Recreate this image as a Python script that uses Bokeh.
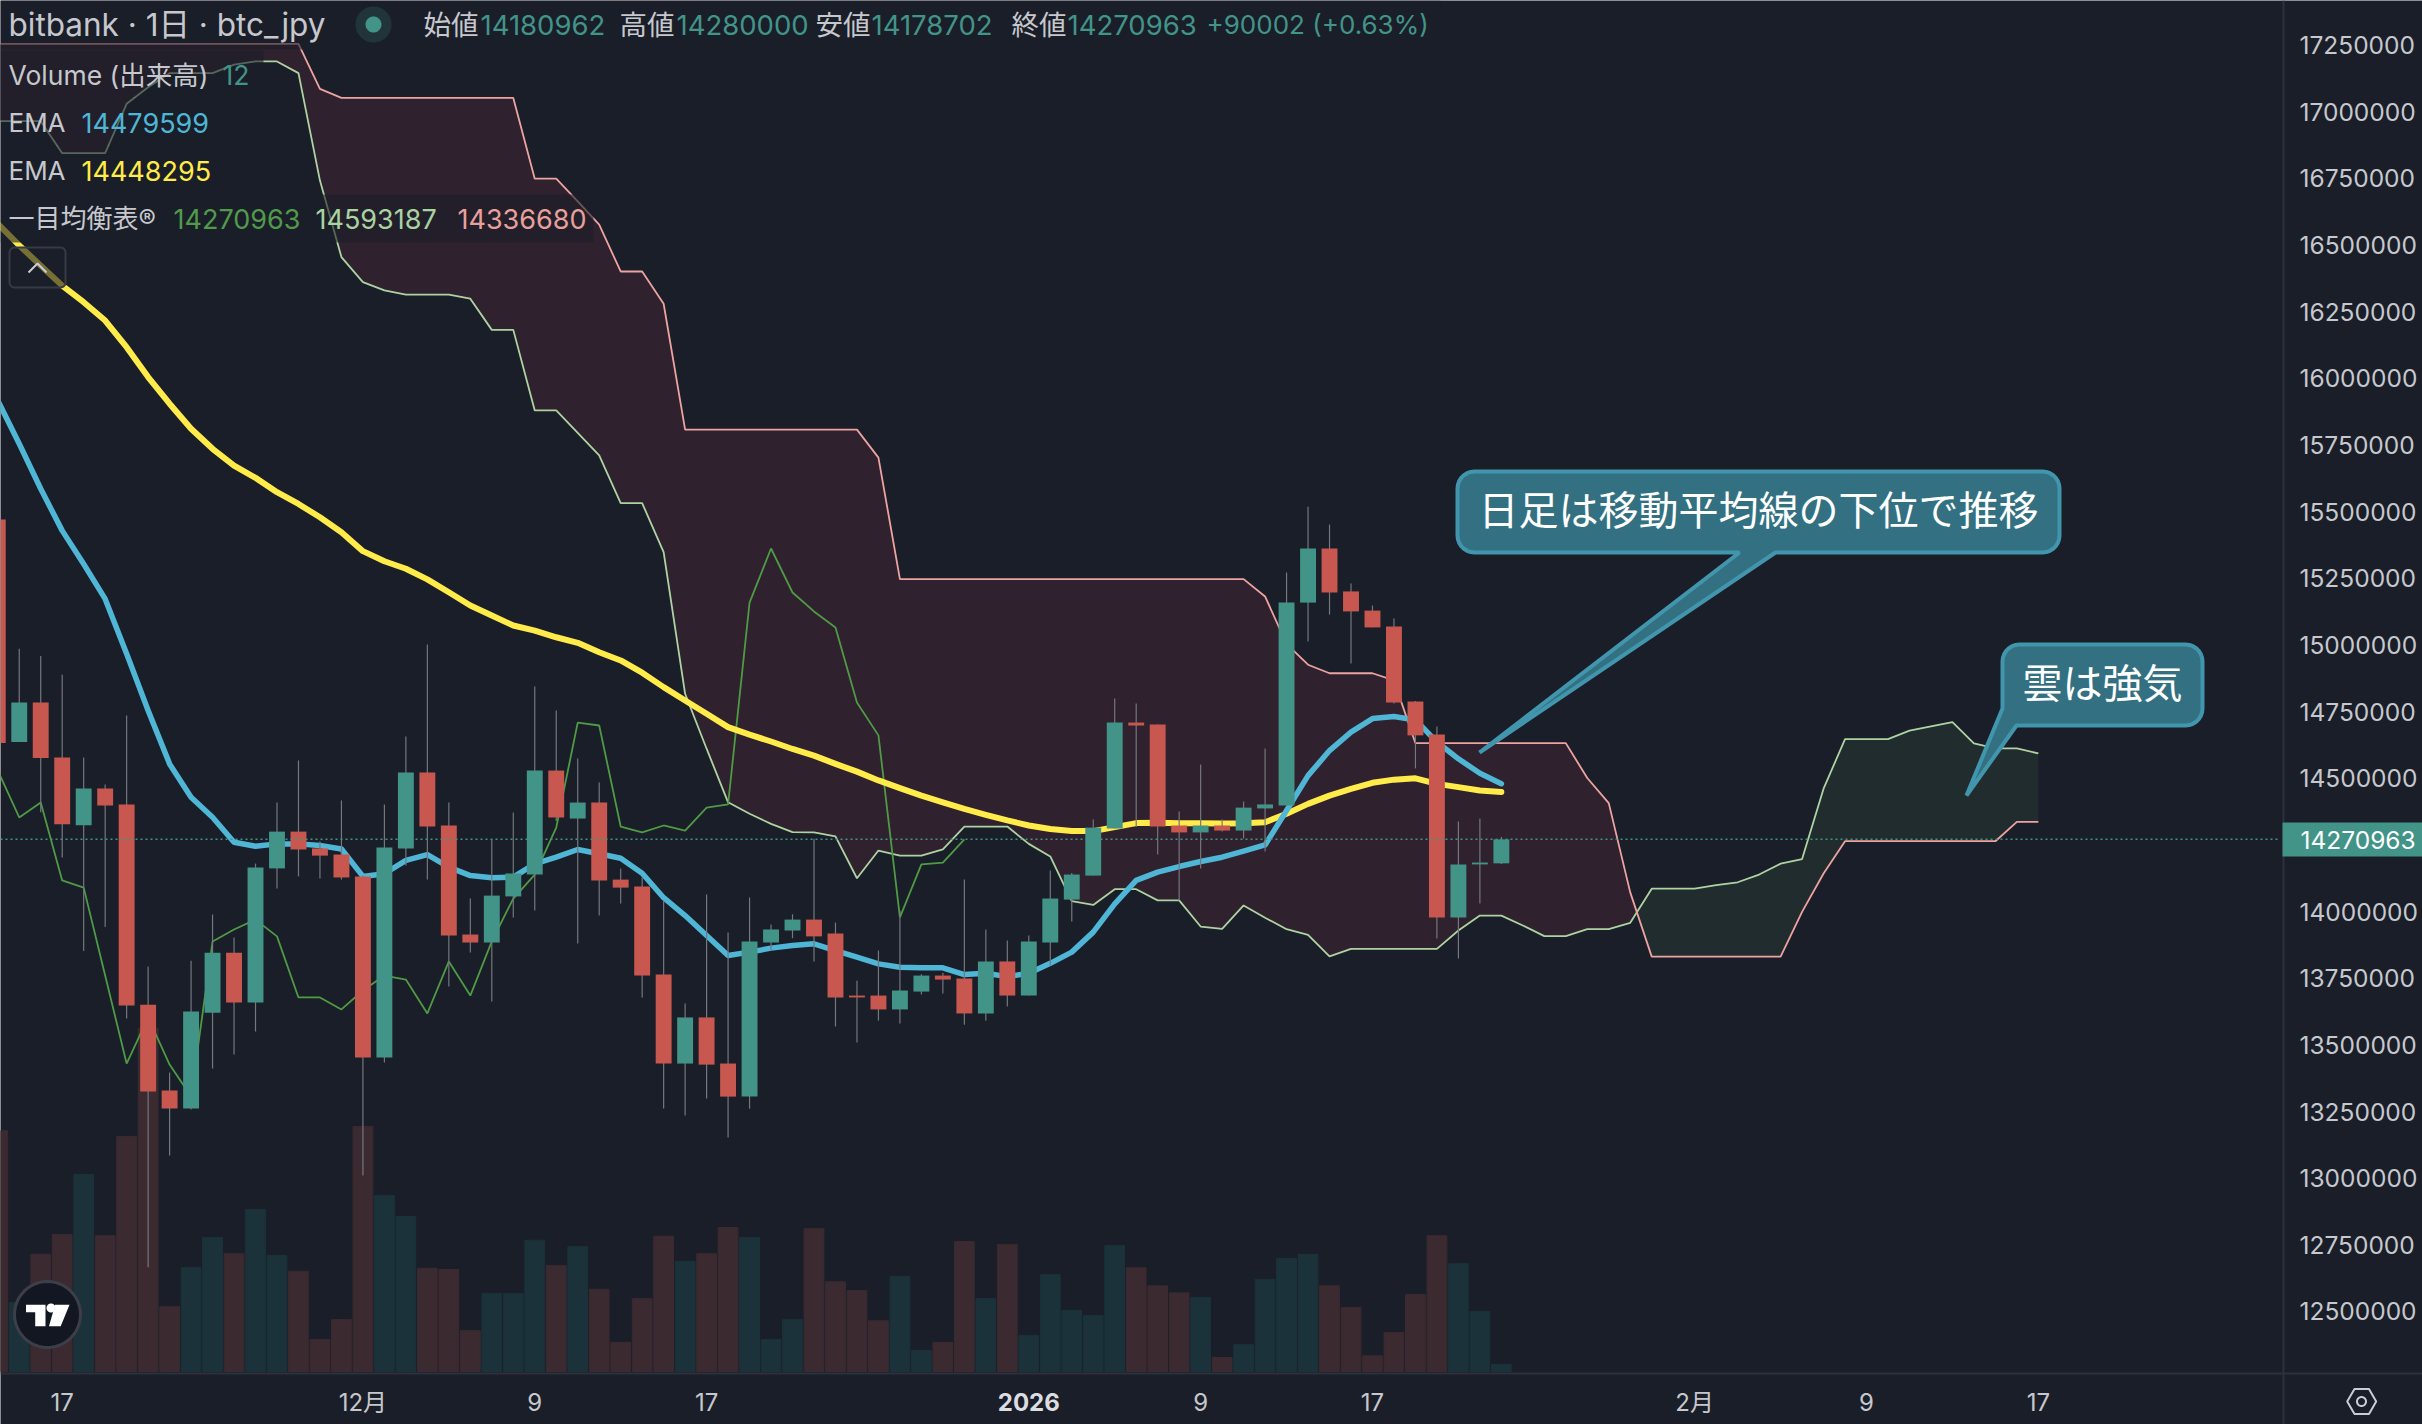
import numpy as np
from bokeh.plotting import figure
from bokeh.models import (Range1d, FixedTicker, BasicTickFormatter, Label, BoxAnnotation, PolyAnnotation)
from bokeh.embed import file_html
from bokeh.resources import INLINE

# ---------- DATA (thousand JPY) ----------
opens = [15471,14636,14784,14578,14324,14462,14402,13651,13329,13261,13621,13846,13659,14162,14300,14237,14214,14132,13453,14237,
         14522,14323,13914,13884,14057,14139,14529,14349,14409,14120,14094,13764,13430,13603,13430,13306,13884,13929,13970,13918,
         13685,13685,13633,13700,13760,13749,13618,13813,13685,13884,14045,14135,14312,14709,14702,14323,14297,14323,14304,14387,
         14398,15159,15362,15201,15129,15069,14788,14664,13978,14177,14180.962]
highs = [15480,14986,14959,14888,14578,14477,14736,13794,13396,13816,13989,13903,14180,14409,14567,14263,14417,14135,14402,14657,
         15002,14409,14049,14270,14372,14844,14754,14574,14484,14162,14129,14042,13655,14064,13922,14053,13952,13990,14273,13959,
         13741,13854,14004,13765,13771,14120,13933,13892,13910,14154,14145,14345,14799,14781,14702,14375,14552,14345,14413,14612,
         15272,15519,15452,15231,15148,15099,14790,14694,14338,14349,14280]
lows = [14600,14636,14373,14203,13852,13942,13599,12666,13085,13258,13411,13464,13550,14087,14132,14124,14120,13010,13434,14173,
        14120,13719,13847,13663,13978,14004,14340,13880,13985,14030,13678,13261,13235,13299,13153,13261,13854,13900,13813,13569,
        13509,13591,13580,13689,13693,13576,13591,13644,13685,13798,13963,14135,14312,14317,14214,14042,14162,14300,14274,14225,
        14398,15013,15114,14931,15066,14781,14537,13899,13824,14030,14178.702]
closes = [14632,14784,14576,14328,14462,14398,13648,13325,13261,13625,13846,13659,14165,14300,14233,14210,14128,13453,14240,14522,
          14319,13910,13884,14060,14143,14529,14353,14409,14117,14090,13760,13430,13603,13426,13306,13888,13933,13970,13907,13678,
          13678,13633,13704,13760,13745,13618,13813,13685,13888,14049,14139,14315,14709,14698,14319,14297,14323,14304,14390,14402,
          15159,15362,15197,15126,15066,14784,14661,13978,14177,14184,14270.963]
volumes = [413,118,201,235,338,233,403,589,111,178,230,202,278,199,172,55,89,420,302,266,
           177,175,70,134,134,225,182,214,141,50,125,232,189,202,247,230,55,89,245,154,
           139,87,163,36,50,223,125,218,62,166,105,96,216,178,147,135,127,24,46,158,
           194,201,147,110,27,67,132,233,185,103,12]
ema_fast = [15917,15755,15586,15429,15304,15173,14967,14754,14554,14429,14354,14260,14245,14254,14254,14248,14235,14132,14142,14192,
            14214,14167,14135,14127,14129,14179,14204,14233,14217,14200,14144,14052,13985,13910,13835,13848,13863,13873,13879,13854,
            13829,13804,13791,13789,13789,13764,13769,13756,13769,13806,13848,13923,14029,14117,14148,14169,14188,14204,14227,14250,
            14379,14510,14604,14673,14724,14732,14719,14636,14573,14519,14479.599]
ema_slow = [16580,16499,16423,16348,16286,16217,16117,16005,15905,15811,15736,15673,15627,15573,15529,15479,15423,15352,15314,15286,
            15246,15198,15148,15111,15073,15054,15029,15008,14973,14942,14896,14842,14792,14742,14692,14664,14638,14610,14585,14554,
            14525,14492,14463,14435,14410,14385,14363,14342,14323,14310,14302,14302,14317,14332,14333,14331,14331,14330,14331,14335,
            14367,14404,14435,14460,14483,14495,14500,14479,14467,14454,14448.295]
span_a = [16965,16965,16965,16845,16845,16845,17030,17092,17145,17145,17145,17177,17189,17189,17145,16742,16455,16361,16330,16314,
          16314,16314,16299,16182,16182,15880,15880,15796,15711,15532,15532,15348,14817,14611,14410,14367,14329,14298,14297,14282,
          14125,14229,14210,14210,14233,14319,14319,14319,14254,14207,14039,14025,14084,14084,14042,14042,13944,13935,14023,13977,
          13934,13913,13832,13860,13860,13860,13860,13860,13929,13985,13985,13948,13908,13908,13934,13934,13958,14086,14086,14086,
          14099,14110,14139,14180,14197,14461,14647,14647,14647,14679,14695,14711,14631,14612,14612,14593.187]
span_b = [17255,17255,17255,17255,17255,17255,17255,17255,17255,17255,17255,17255,17255,17255,17255,17086,17052,17052,17052,17052,
          17052,17052,17052,17052,17052,16749,16749,16664,16577,16401,16401,16280,15808,15808,15808,15808,15808,15808,15808,15808,
          15808,15703,15247,15247,15247,15247,15247,15247,15247,15247,15247,15247,15247,15247,15247,15247,15247,15247,15247,15182,
          15004,14926,14894,14894,14894,14867,14632,14632,14632,14632,14632,14632,14632,14632,14501,14407,14072,13831,13831,13831,
          13831,13831,13831,13831,13999,14143,14264,14264,14264,14264,14264,14264,14264,14264,14336.68,14336.68]
LAG = 25
y_ticks = list(range(12500000, 17250001, 250000))
x_tick_pos = [3, 17, 25, 33, 56, 64, 79, 87, 95]
x_tick_txt = ["17", "12月", "9", "17", "9", "17", "2月", "9", "17"]
year_pos, year_txt = 48, "2026"
LAST = 14270963
title = "bitbank · 1日 · btc_jpy"
ohlc_names = ["始値", "高値", "安値", "終値"]
ohlc_vals = ["14180962", "14280000", "14178702", "14270963"]
change = "+90002 (+0.63%)"
vol_now = "12"
ema_vals = ["14479599", "14448295"]
ichi_name = "一目均衡表®"
ichi_vals = ["14270963", "14593187", "14336680"]
note1, note2 = "日足は移動平均線の下位で推移", "雲は強気"

# ---------- STYLE ----------
BG = "#1a1e29"; UP = "#429488"; DN = "#c8584f"; WICK = "#74777c"
VUP = "#1b323a"; VDN = "#3b2a30"; SEP = "#2d313d"; TXT = "#c6c8cd"
PINK = "#eda3a0"; LGREEN = "#aed3a2"; CHIKOU = "#4f9a45"
CLOUD_R = "#2f212e"; CLOUD_G = "#212c2e"; BLUE = "#4fb6d6"; YEL = "#ffeb4a"
NOTE_F = "#337182"; NOTE_L = "#4196ad"
FONT = "Inter, 'Noto Sans CJK JP'"
W, H, FW, FH = 2422, 1424, 2283, 1373

# pixel -> data helpers, used only for chrome (legend, callouts, logo)
xd = lambda px: (np.asarray(px, float) + 2.74) / 21.48
yd = lambda py: 15000000 - (np.asarray(py, float) - 644.5) * 3751.0

p = figure(width=W, height=H, x_range=Range1d(float(xd(0)), float(xd(W))), y_range=Range1d(float(yd(H)), float(yd(0))),
           y_axis_location="right", toolbar_location=None, output_backend="svg",
           background_fill_color=BG, border_fill_color=BG, outline_line_color=None,
           min_border_left=0, min_border_top=0, min_border_right=0, min_border_bottom=0,
           margin=(0, 0, 0, 0))
p.grid.visible = False
vs = 1 / 0.583
p.extra_y_ranges = {"vol": Range1d(-(H - 1371) * vs, 1371 * vs)}

yax = p.yaxis[0]
yax.fixed_location = float(xd(FW))
yax.ticker = FixedTicker(ticks=y_ticks)
yax.formatter = BasicTickFormatter(use_scientific=False)
yax.major_tick_line_color = None; yax.minor_tick_line_color = None
yax.axis_line_color = SEP; yax.axis_line_width = 2
yax.major_label_text_color = TXT; yax.major_label_text_font = "Inter"
yax.major_label_text_font_size = "24.5px"; yax.major_label_standoff = 10
xax = p.xaxis[0]
xax.fixed_location = float(yd(FH))
xax.ticker = FixedTicker(ticks=x_tick_pos)
xax.major_label_overrides = dict(zip(x_tick_pos, x_tick_txt))
xax.major_tick_line_color = None; xax.minor_tick_line_color = None
xax.axis_line_color = SEP; xax.axis_line_width = 2
xax.major_label_text_color = TXT; xax.major_label_text_font = FONT
xax.major_label_text_font_size = "24px"; xax.major_label_standoff = 8

idx = np.arange(len(closes))
o, h, l, c = [np.array(a, float) * 1000 for a in (opens, highs, lows, closes)]
up = c >= o
vcol = [VUP if u else VDN for u in up]
ccol = [UP if u else DN for u in up]

# volume
p.vbar(idx, width=0.92, top=volumes, bottom=0, color=vcol, y_range_name="vol")

# cloud, split where the spans cross
xa = np.arange(len(span_a), dtype=float)
A = np.array(span_a, float) * 1000; B = np.array(span_b, float) * 1000
xs, ya, yb = [], [], []
for i in range(len(xa)):
    xs.append(xa[i]); ya.append(A[i]); yb.append(B[i])
    if i + 1 < len(xa) and (A[i] - B[i]) * (A[i + 1] - B[i + 1]) < 0:
        t = (A[i] - B[i]) / ((A[i] - B[i]) - (A[i + 1] - B[i + 1]))
        yc = A[i] + t * (A[i + 1] - A[i])
        xs.append(xa[i] + t); ya.append(yc); yb.append(yc)
xs, ya, yb = map(np.array, (xs, ya, yb))
p.varea(xs, ya, np.where(yb >= ya, yb, ya), fill_color=CLOUD_R)
p.varea(xs, yb, np.where(ya >= yb, ya, yb), fill_color=CLOUD_G)
p.line(xa, A, line_color=LGREEN, line_width=1.8)
p.line(xa, B, line_color=PINK, line_width=1.8)
# lagging span: closes drawn LAG bars back
p.line(idx[:-LAG], c[LAG:], line_color=CHIKOU, line_width=1.8)
# EMAs
p.line(idx, np.array(ema_slow) * 1000, line_color=YEL, line_width=6, line_join="round", line_cap="round")
p.line(idx, np.array(ema_fast) * 1000, line_color=BLUE, line_width=5.5, line_join="round", line_cap="round")
# candles
p.segment(idx, h, idx, l, line_color=WICK, line_width=1.2)
p.vbar(idx, width=0.74, top=np.maximum(o, c), bottom=np.minimum(o, c), color=ccol, line_width=0)
# last price line
p.line([float(xd(0)), float(xd(FW - 3))], [LAST, LAST], line_color=UP, line_width=1.5, line_dash="2 3")

def box(l_, r_, t_, b_, color, alpha=1.0):
    p.add_layout(BoxAnnotation(left=float(xd(l_)), right=float(xd(r_)), top=float(yd(t_)), bottom=float(yd(b_)),
                               fill_color=color, fill_alpha=alpha, line_alpha=0))

def poly(px, py, fill=None, line=None, lw=1.0, falpha=1.0):
    p.add_layout(PolyAnnotation(xs=[float(v) for v in xd(px)], ys=[float(v) for v in yd(py)],
                                fill_color=fill if fill else BG, fill_alpha=falpha if fill else 0,
                                line_color=line if line else BG, line_alpha=1 if line else 0, line_width=lw))

def T(txt, px, py, color=TXT, size=26, align="left", style="normal", font=FONT):
    p.add_layout(Label(x=float(xd(px)), y=float(yd(py)), text=txt, text_color=color, text_font=font,
                       text_font_size=f"{size}px", text_align=align, text_baseline="middle", text_font_style=style))

def rrect(l_, r_, t_, b_, rad, n=8):
    """rounded rectangle outline, clockwise from the top-left corner; n points per corner"""
    a = np.linspace(0, np.pi / 2, n)
    X = np.r_[l_ + rad - rad * np.cos(a), r_ - rad + rad * np.sin(a), r_ - rad + rad * np.cos(a), l_ + rad - rad * np.sin(a)]
    Y = np.r_[t_ + rad - rad * np.sin(a), t_ + rad - rad * np.cos(a), b_ - rad + rad * np.sin(a), b_ - rad + rad * np.cos(a)]
    return X, Y

def ring(cx, cy, rx, ry=None, n=48):
    ry = rx if ry is None else ry
    a = np.linspace(0, 2 * np.pi, n, endpoint=False)
    return cx + rx * np.cos(a), cy + ry * np.sin(a)

# year label on the time axis
p.add_layout(Label(x=float(year_pos), y=float(yd(1401)), text=year_txt, text_color="#dcdde0", text_font="Inter",
                   text_font_size="24px", text_align="center", text_baseline="middle", text_font_style="bold"))

# price tag
box(2282, W, 822, 856, UP)
T(f"{LAST}", 2300, 839, "#ffffff", 24.5, font="Inter")

# legend backgrounds
box(0, 1440, 0, 49, BG, 0.6)
box(0, 263, 50, 97, BG, 0.6)
box(0, 214, 97, 145, BG, 0.6)
box(0, 214, 145, 194, BG, 0.6)
box(0, 593, 194, 242, BG, 0.6)
# collapse button
bx, by = rrect(9, 65, 247, 287, 5)
poly(bx, by, BG, "#363a45", 2, 0.6)
p.line(xd([28, 37, 46]), yd([272, 263, 272]), line_color="#c9ccd4", line_width=2, level="overlay")

# legend rows
T(title, 8, 24, TXT, 31.5)
poly(*ring(373, 24, 18), "#21343a")
poly(*ring(373, 24, 8), UP)
for name, val, xn, xv in zip(ohlc_names, ohlc_vals, [423, 619, 815, 1011], [480, 676, 871, 1067]):
    T(name, xn, 24, TXT, 27.5)
    T(val, xv, 24, UP, 27.5)
T(change, 1206, 24, UP, 26)
T("Volume (出来高)", 8, 74, TXT, 26.5)
T(vol_now, 222, 74, UP, 26.5)
T("EMA", 8, 122, TXT, 26)
T(ema_vals[0], 81, 122, BLUE, 27)
T("EMA", 8, 170, TXT, 26)
T(ema_vals[1], 81, 170, YEL, 27)
T(ichi_name, 8, 218, TXT, 26)
for v, xv, col in zip(ichi_vals, [173, 315, 457], ["#519a4b", "#a9d3a0", "#e8a09b"]):
    T(v, xv, 218, col, 27)

# callouts
NC = 8
X, Y = rrect(1457, 2059, 471, 552, 17, NC)
poly(np.r_[X[:3 * NC], 1775, 1479, 1739, X[3 * NC:]], np.r_[Y[:3 * NC], 552, 752, 552, Y[3 * NC:]], NOTE_F, NOTE_L, 4)
T(note1, 1758, 507, "#ffffff", 40, "center", font="'Noto Sans CJK JP'")

X, Y = rrect(2002, 2202, 644, 725, 17, NC)
poly(np.r_[X[:3 * NC], 2016, 1966, 2002], np.r_[Y[:3 * NC], 725, 795, 708], NOTE_F, NOTE_L, 4)
T(note2, 2102, 680, "#ffffff", 40, "center", font="'Noto Sans CJK JP'")

# logo
poly(*ring(47, 1314, 33), "#131722", "#3c3f4a", 3)
poly([25.5, 45, 45, 34.7, 34.7, 25.5], [1304.3, 1304.3, 1325.7, 1325.7, 1311.7, 1311.7], "#ffffff")
poly(*ring(50.5, 1307.5, 4.5), "#ffffff")
poly([54.6, 69, 60.2, 48.5], [1304.3, 1304.3, 1325.7, 1325.7], "#ffffff")

# settings hexagon
poly([2346.7, 2354, 2368.5, 2375.7, 2368.5, 2354], [1401, 1388.5, 1388.5, 1401, 1413.5, 1413.5], None, "#c8ccd4", 2)
poly(*ring(2361, 1401, 4.5), None, "#c8ccd4", 2)

open("out.html", "w").write(file_html(p, INLINE))
